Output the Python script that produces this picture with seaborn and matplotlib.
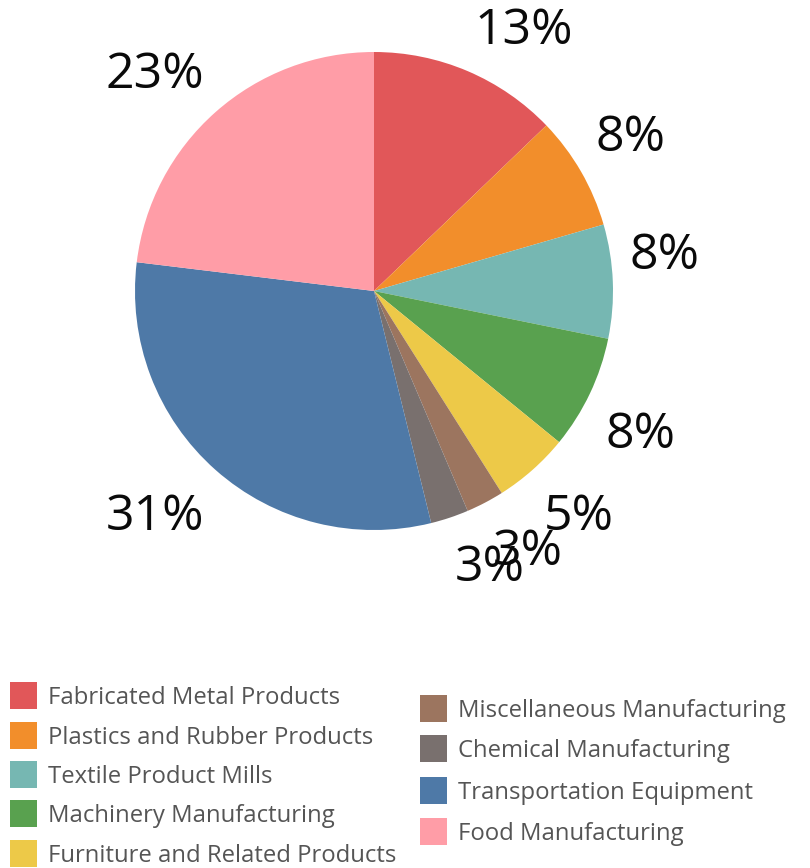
import matplotlib
matplotlib.use("Agg")
import matplotlib.pyplot as plt
import seaborn as sns
import numpy as np
from matplotlib.patches import Rectangle

sns.set_theme(style="white")
plt.rcParams['font.family'] = ['Open Sans', 'DejaVu Sans']

categories = ["Fabricated Metal Products", "Plastics and Rubber Products",
              "Textile Product Mills", "Machinery Manufacturing",
              "Furniture and Related Products", "Miscellaneous Manufacturing",
              "Chemical Manufacturing", "Transportation Equipment",
              "Food Manufacturing"]
counts = [5, 3, 3, 3, 2, 1, 1, 12, 9]
colors = ["#E15759", "#F28E2B", "#76B7B2", "#59A14F", "#EDC948",
          "#9C755F", "#79706E", "#4E79A7", "#FF9DA7"]

W, H = 810, 868
fig = plt.figure(figsize=(W / 100, H / 100), dpi=100)
ax = fig.add_axes([0, 0, 1, 1])

cx, cy, R = 374, H - 291, 239
total = sum(counts)
pct_labels = [f"{round(c / total * 100)}%" for c in counts]

wedges, texts = ax.pie(counts, colors=colors, startangle=90, counterclock=False,
                       center=(cx, cy), radius=R, labels=pct_labels,
                       labeldistance=1.07, frame=True,
                       wedgeprops=dict(linewidth=0),
                       textprops=dict(fontsize=36, color="#0a0a0a"))
ax.set_xlim(0, W)
ax.set_ylim(0, H)
ax.set_aspect('equal')
ax.axis('off')
for t in texts:
    x, y = t.get_position()
    t.set_ha('left' if x > cx else 'right')
    if y > cy:
        t.set_va('bottom')
    else:
        t.set_va('top')
        t.set_position((x, y - 10))

# legend
col1_y = [695, 735, 774, 813, 853]
col2_y = [708, 748, 790, 831]
sq = 27
for i, name in enumerate(categories):
    if i < 5:
        x0, py = 10, col1_y[i]
    else:
        x0, py = 420, col2_y[i - 5]
    y = H - py
    ax.add_patch(Rectangle((x0, y - sq / 2), sq, sq, facecolor=colors[i],
                           edgecolor='none'))
    ax.text(x0 + 38, y - 3, name, fontsize=17.2, color="#555555",
            va='center', ha='left')

fig.savefig("out.png", dpi=100)
